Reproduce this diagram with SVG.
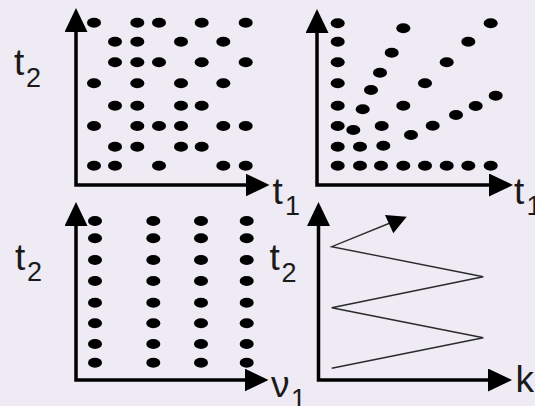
<svg xmlns="http://www.w3.org/2000/svg" width="535" height="406" viewBox="0 0 535 406">
<style>
.bg{fill:#eeebf4}
.ax{fill:none;stroke:#000;stroke-width:3.5;marker-start:url(#ah);marker-end:url(#ah)}
.d{fill:#000}
.lbl{font-family:"Liberation Sans",Arial,sans-serif;font-size:37px;fill:#1a1a1a}
.sub{font-family:"Liberation Sans",Arial,sans-serif;font-size:27px;fill:#1a1a1a}
.zz{fill:none;stroke:#2a2a2a;stroke-width:1.4;stroke-linejoin:miter}
</style>
<defs>
<marker id="ah" viewBox="0 0 24 23" markerWidth="24" markerHeight="23" refX="0.5" refY="11.5" orient="auto-start-reverse" markerUnits="userSpaceOnUse">
<path d="M0,0 L24,11.5 L0,23 z" fill="#000"/>
</marker>
<ellipse id="dt" rx="7" ry="5"/>
</defs>
<rect class="bg" x="0" y="0" width="535" height="406"/>
<g id="connectors">
<path class="ax" d="M76,31.5 V185 H246"/>
<path class="ax" d="M317,32.5 V185 H489.5"/>
<path class="ax" d="M76,225.5 V380 H245"/>
<path class="ax" d="M318.5,225.5 V380 H488.5"/>
<polyline class="zz" points="331.7,368.3 483.3,337.7 331.7,307.7 483.3,276.7 331.7,246.7 395,221"/>
<polygon points="406.7,216.7 385,215 393.3,233.3" fill="#000"/>
</g>
<g id="panel1" class="d">
<use href="#dt" x="94" y="22.7"/><use href="#dt" x="137.3" y="22.7"/><use href="#dt" x="159" y="22.7"/><use href="#dt" x="201.7" y="22.7"/><use href="#dt" x="245.7" y="22.7"/>
<use href="#dt" x="115" y="41.7"/><use href="#dt" x="137.3" y="41.7"/><use href="#dt" x="181" y="41.7"/><use href="#dt" x="223.3" y="41.7"/>
<use href="#dt" x="115" y="62.3"/><use href="#dt" x="137.3" y="62.3"/><use href="#dt" x="159" y="62.3"/><use href="#dt" x="201.7" y="62.3"/><use href="#dt" x="245.7" y="62.3"/>
<use href="#dt" x="94" y="83.3"/><use href="#dt" x="137.3" y="83.3"/><use href="#dt" x="181" y="83.3"/><use href="#dt" x="223.3" y="83.3"/>
<use href="#dt" x="115" y="105.7"/><use href="#dt" x="137.3" y="105.7"/><use href="#dt" x="181" y="105.7"/><use href="#dt" x="201.7" y="105.7"/>
<use href="#dt" x="94" y="126"/><use href="#dt" x="137.3" y="126"/><use href="#dt" x="159" y="126"/><use href="#dt" x="181" y="126"/><use href="#dt" x="223.3" y="126"/><use href="#dt" x="245.7" y="126"/>
<use href="#dt" x="115" y="146.7"/><use href="#dt" x="137.3" y="146.7"/><use href="#dt" x="181" y="146.7"/><use href="#dt" x="201.7" y="146.7"/>
<use href="#dt" x="94" y="165.7"/><use href="#dt" x="115" y="165.7"/><use href="#dt" x="159" y="165.7"/><use href="#dt" x="223.3" y="165.7"/><use href="#dt" x="245.7" y="165.7"/>
</g>
<g id="panel2" class="d">
<use href="#dt" x="337.7" y="23.3"/><use href="#dt" x="337.7" y="41.7"/><use href="#dt" x="337.7" y="62.3"/><use href="#dt" x="337.7" y="83.3"/><use href="#dt" x="337.7" y="105.7"/><use href="#dt" x="337.7" y="126"/><use href="#dt" x="337.7" y="146.7"/>
<use href="#dt" x="337.7" y="165.7"/><use href="#dt" x="360" y="165.7"/><use href="#dt" x="381" y="165.7"/><use href="#dt" x="403.3" y="165.7"/><use href="#dt" x="425" y="165.7"/><use href="#dt" x="446.7" y="165.7"/><use href="#dt" x="468.3" y="165.7"/><use href="#dt" x="490.7" y="165.7"/>
<use href="#dt" x="403.3" y="28.3"/><use href="#dt" x="490.7" y="23.3"/><use href="#dt" x="468.3" y="41.7"/><use href="#dt" x="391.7" y="52.7"/><use href="#dt" x="446.7" y="62.3"/>
<use href="#dt" x="380" y="72.7"/><use href="#dt" x="425" y="83.3"/><use href="#dt" x="371" y="90"/><use href="#dt" x="495.7" y="95.7"/><use href="#dt" x="362.7" y="109.3"/>
<use href="#dt" x="403.3" y="105.7"/><use href="#dt" x="475.7" y="106"/><use href="#dt" x="456" y="115"/><use href="#dt" x="353.3" y="130"/><use href="#dt" x="381.7" y="126"/>
<use href="#dt" x="432.7" y="125.7"/><use href="#dt" x="411" y="135"/><use href="#dt" x="360" y="146.7"/><use href="#dt" x="383.3" y="145.7"/>
</g>
<g id="panel3" class="d">
<use href="#dt" x="95" y="221"/><use href="#dt" x="95" y="238.3"/><use href="#dt" x="95" y="260"/><use href="#dt" x="95" y="281"/><use href="#dt" x="95" y="302.7"/><use href="#dt" x="95" y="323.3"/><use href="#dt" x="95" y="344"/><use href="#dt" x="95" y="362.7"/>
<use href="#dt" x="153.3" y="221"/><use href="#dt" x="153.3" y="238.3"/><use href="#dt" x="153.3" y="260"/><use href="#dt" x="153.3" y="281"/><use href="#dt" x="153.3" y="302.7"/><use href="#dt" x="153.3" y="323.3"/><use href="#dt" x="153.3" y="344"/><use href="#dt" x="153.3" y="362.7"/>
<use href="#dt" x="201" y="221"/><use href="#dt" x="201" y="238.3"/><use href="#dt" x="201" y="260"/><use href="#dt" x="201" y="281"/><use href="#dt" x="201" y="302.7"/><use href="#dt" x="201" y="323.3"/><use href="#dt" x="201" y="344"/><use href="#dt" x="201" y="362.7"/>
<use href="#dt" x="246.7" y="221"/><use href="#dt" x="246.7" y="238.3"/><use href="#dt" x="246.7" y="260"/><use href="#dt" x="246.7" y="281"/><use href="#dt" x="246.7" y="302.7"/><use href="#dt" x="246.7" y="323.3"/><use href="#dt" x="246.7" y="344"/><use href="#dt" x="246.7" y="362.7"/>
</g>
<g id="labels">
<text class="lbl" x="14" y="75">t</text><text class="sub" x="26" y="86.5">2</text>
<text class="lbl" x="272.5" y="203.5">t</text><text class="sub" x="285" y="215">1</text>
<text class="lbl" x="514" y="203.5">t</text><text class="sub" x="526.5" y="215">1</text>
<text class="lbl" x="15" y="270">t</text><text class="sub" x="27" y="281">2</text>
<text class="lbl" x="269.5" y="270">t</text><text class="sub" x="281.5" y="281.5">2</text>
<text class="lbl" x="271" y="396.5">ν</text><text class="sub" x="291" y="408">1</text>
<text class="lbl" x="515.5" y="391.5">k</text>
</g>
</svg>
